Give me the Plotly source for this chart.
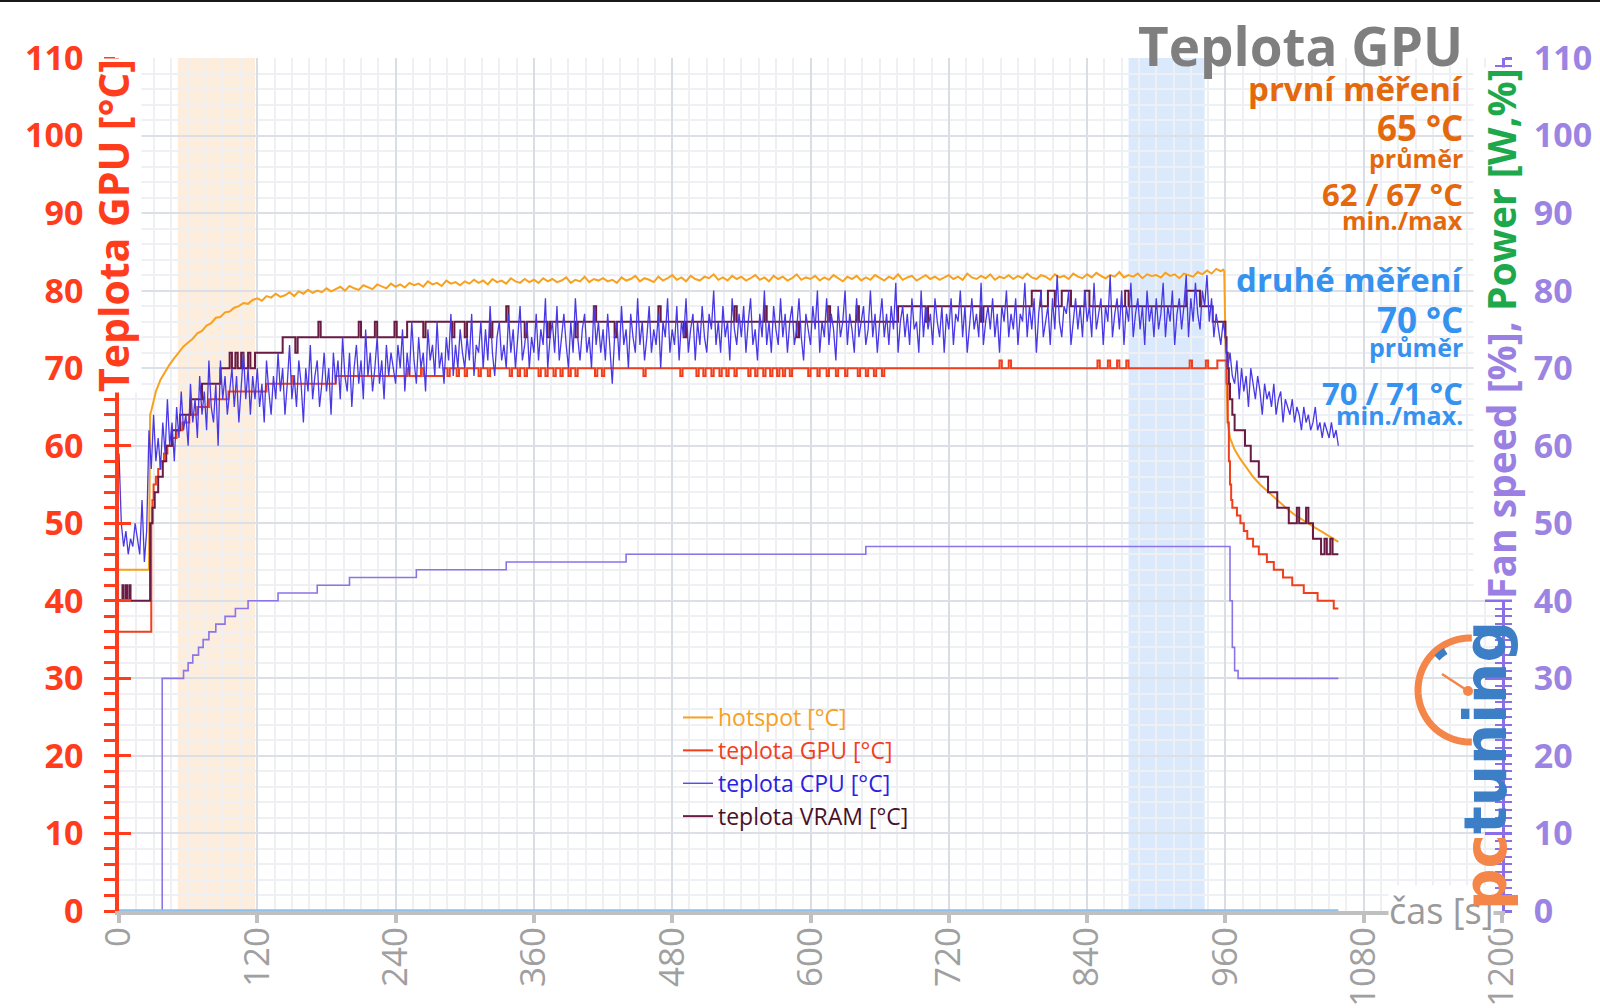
import math
import plotly.graph_objects as go

# ---------------- data ----------------
# CPU temperature, sampled every 2 s from t = 0 s
cpu_v = [
    59,50,47,49,46,48,47,50,48,46,53,45,49,62,57,64,58,61,57,63,59,66,60,63,58,65,61,67,62,64,
    60,68,63,66,61,69,64,67,62,71,65,63,68,60,71,66,69,64,67,70,65,69,63,68,72,66,70,64,69,66,
    70,65,68,63,71,67,64,69,66,72,67,70,64,68,73,66,69,65,71,68,63,70,67,73,66,69,71,65,68,72,
    67,70,64,72,68,71,66,74,69,67,72,65,70,73,68,71,66,75,69,72,67,70,74,68,71,66,73,69,72,70,
    68,73,70,75,67,72,69,76,71,68,74,70,72,67,75,71,73,69,76,70,72,68,74,71,77,69,73,70,75,72,
    70,74,71,77,69,73,72,76,70,75,71,78,72,69,74,76,71,73,70,77,72,75,70,74,78,71,73,76,70,74,
    72,77,71,75,73,79,70,74,76,72,78,71,74,77,73,70,76,72,79,74,71,75,77,72,74,70,78,73,76,72,
    75,71,77,73,68,74,76,71,78,73,75,70,77,74,72,79,73,76,71,74,78,72,75,73,77,70,76,74,79,72,
    75,73,78,71,76,74,79,72,75,77,71,76,73,78,74,72,77,75,80,73,76,72,78,74,76,71,79,75,73,77,
    74,78,72,76,79,73,75,71,77,74,80,73,76,72,78,75,73,79,74,77,72,76,78,73,75,79,74,71,77,75,
    73,78,75,80,72,76,74,79,73,77,75,71,78,74,76,80,73,77,75,72,79,74,76,78,73,75,80,74,77,72,
    76,79,74,77,73,78,75,81,72,76,78,74,77,73,79,75,76,72,80,74,78,75,77,73,79,76,74,78,72,77,
    75,79,73,77,76,80,74,78,72,76,79,75,77,74,81,73,76,78,75,79,74,77,72,78,76,80,74,77,75,79,
    73,77,76,81,74,78,75,79,72,77,80,74,76,78,73,79,75,82,76,74,78,77,80,73,76,79,75,78,74,80,
    76,78,74,81,75,77,79,73,78,76,82,74,77,79,75,80,73,78,76,81,74,77,79,75,78,73,80,76,78,74,
    79,75,77,81,74,78,76,80,73,77,79,75,78,82,74,79,76,81,77,75,80,78,82,76,79,74,77,75,73,76,
    74,70,72,69,68,71,66,70,67,69,65,70,68,66,69,67,64,68,66,67,65,68,64,66,67,63,66,65,64,66,
    63,65,64,62,65,63,64,62,63,65,62,63,61,63,62,61,63,61,62,60,
]
cpu_t = [2 * i for i in range(len(cpu_v))]

# hotspot: start, warm-up rise (every 4 s from 28 s), plateau (every 4 s from 120 s), cool-down
hot_head_t = [0, 26, 27]
hot_head_v = [44, 44, 64]
hot_rise_v = [64.5,67,68.5,69.5,70.5,71.3,72,72.8,73.3,73.8,74.5,74.8,75.5,75.8,76.5,76.6,77.2,77.3,77.8,78.0,78.4,78.3,78.8]
hot_plateau_v = [
    79.0,78.7,79.3,79.1,79.6,79.2,79.4,79.8,79.3,79.9,79.6,80.1,79.7,80.0,79.8,
    80.3,79.9,80.2,80.5,80.0,80.6,80.3,80.1,80.7,80.4,80.2,80.8,80.5,80.3,80.9,
    80.5,80.8,80.4,81.0,80.7,80.9,80.5,81.2,80.8,81.0,80.6,81.3,80.9,81.1,80.7,
    81.2,80.9,81.4,81.0,81.3,80.8,81.5,81.1,81.3,80.9,81.6,81.2,81.0,81.5,81.1,
    81.4,81.0,81.6,81.2,81.5,81.1,81.3,81.7,81.0,81.4,81.2,81.8,81.1,81.5,81.3,
    81.6,81.2,81.4,81.0,81.7,81.3,81.5,81.9,81.2,81.6,81.4,81.1,81.8,81.3,81.6,
    82.0,81.4,81.7,81.2,81.9,81.5,81.3,81.8,81.6,82.1,81.4,81.7,81.3,81.9,81.5,
    81.8,81.3,81.6,82.0,81.4,81.7,81.2,81.9,81.5,81.8,81.3,81.6,82.1,81.4,81.7,
    81.5,81.9,81.3,81.7,81.4,82.0,81.6,81.2,81.8,81.5,81.9,81.3,81.7,81.4,82.0,
    81.6,81.3,81.8,81.5,82.1,81.4,81.7,81.9,81.3,81.6,82.0,81.5,81.8,81.4,81.7,
    82.0,81.5,81.8,81.4,82.2,81.7,81.5,81.9,81.6,82.1,81.4,81.8,81.6,82.0,81.5,
    81.9,81.6,82.2,81.7,81.5,82.0,81.8,81.4,82.1,81.7,81.9,81.5,82.2,81.8,81.6,
    82.1,81.7,82.3,81.9,81.6,82.0,81.8,82.4,81.7,82.0,81.8,82.2,81.6,82.1,81.9,
    82.0,81.7,82.3,81.9,82.1,81.6,82.2,82.0,81.8,82.4,82.1,82.6,82.2,82.8,82.5,
]
hot_tail_t = [958, 959, 960, 961, 962, 964, 968, 972, 978, 984, 990, 996, 1002, 1008, 1014, 1020, 1026, 1032, 1038, 1044, 1050, 1058]
hot_tail_v = [82.7, 82.5, 74, 66, 63, 61, 59.5, 58.5, 57.2, 56, 55, 54.2, 53.3, 52.5, 51.8, 51.1, 50.5, 50, 49.4, 48.9, 48.3, 47.6]

# GPU temperature: change points (time s, °C), step-wise
gpu_points = [
    (0,36),(28,50),(29,53),(30,55),(32,56),(34,57),(36,58),(39,59),(42,60),(46,61),(50,62),(55,63),
    (61,64),(68,65),(78,66),(95,67),(128,68),(150,69),(152,68),(188,69),(250,70),(252,69),(262,70),
    (264,69),(282,70),
    (285,69),(287,70),(293,69),(295,70),(300,69),(302,70),(312,69),(314,70),(320,69),(322,70),
    (339,69),(341,70),(346,69),(348,70),(352,69),(354,70),(364,69),(366,70),(370,69),(372,70),
    (377,69),(379,70),(383,69),(385,70),(390,69),(392,70),(396,69),(398,70),(413,69),(415,70),
    (419,69),(421,70),(455,69),(457,70),(487,69),(489,70),(501,69),(503,70),(507,69),(509,70),
    (514,69),(516,70),(521,69),(523,70),(527,69),(529,70),(534,69),(536,70),(546,69),(548,70),
    (552,69),(554,70),(559,69),(561,70),(565,69),(567,70),(571,69),(573,70),(576,69),(578,70),
    (582,69),(584,70),(598,69),(600,70),(606,69),(608,70),(614,69),(616,70),(622,69),(624,70),
    (630,69),(632,70),(641,69),(643,70),(648,69),(650,70),(655,69),(657,70),(662,69),(664,70),
    (764,71),(766,70),(772,71),(774,70),(849,71),(851,70),(858,71),(860,70),(866,71),(868,70),
    (874,71),(876,70),(929,71),(931,70),(943,71),(945,70),(953,71),
    (961,68),(962,63),(963,58),(964,55),(965,53),(966,52),(970,51),(973,50),(976,49),(979,48),
    (984,47),(989,46),(996,45),(1002,44),(1010,43),(1018,42),(1028,41),(1040,40),(1054,39),(1058,39),
]

# VRAM temperature: change points (time s, °C), step-wise
vram_points = [
    (0,40),(3,42),(4,40),(6,42),(7,40),(9,42),(10,40),(27,50),(29,52),(31,54),(34,56),(38,58),
    (41,60),(46,62),(53,64),(62,66),(72,68),(88,70),(96,72),(98,70),(101,72),(103,70),(106,72),
    (108,70),(112,72),(114,70),(118,72),(142,74),(153,72),(155,74),(173,76),(175,74),(208,76),
    (210,74),(222,76),(224,74),(239,76),(241,74),(250,76),(264,74),(266,76),(289,74),(291,76),
    (300,74),(302,76),(322,74),(324,76),(336,78),(338,76),(352,74),(354,76),(372,74),(374,76),
    (396,74),(398,76),(412,78),(414,76),(430,74),(432,76),(468,78),(470,76),(490,74),(492,76),
    (534,78),(536,76),(560,78),(562,76),(588,74),(590,76),(615,78),(617,76),(640,78),(642,76),
    (676,78),(700,76),(702,78),(748,76),(750,78),(792,80),(800,78),(806,80),(812,78),(818,80),
    (826,78),(838,80),(842,78),(873,80),(876,78),(926,80),(938,78),(949,76),(960,74),(961,72),
    (962,70),(963,68),(964,66),(966,64),(968,62),(977,60),(982,58),(989,56),(997,54),(1005,52),
    (1015,50),(1022,52),(1024,50),(1030,52),(1032,50),(1036,48),(1043,46),(1046,48),(1048,46),
    (1051,48),(1053,46),(1058,46),
]

# Fan speed [%]: change points (time s, %), step-wise
fan_points = [
    (0,0),(37,0),(37.5,30),(56,31),(60,32),(64,33),(69,34),(73,35),(78,36),(84,37),(92,38),
    (101,39),(112,40),(138,41),(172,42),(200,43),(258,44),(336,45),(440,46),(648,47),
    (964,40),(966,34),(968,31),(971,30),(1058,30),
]

# Power (at zero over the whole run)
power_t = [0, 1058]
power_v = [0, 0]

# highlighted measurement windows (s)
band_first = [51, 118]
band_second = [876, 942]

x_ticks = [0, 120, 240, 360, 480, 600, 720, 840, 960, 1080, 1200]
y_ticks = [0, 10, 20, 30, 40, 50, 60, 70, 80, 90, 100, 110]

legend_names = ["hotspot [°C]", "teplota GPU [°C]", "teplota CPU [°C]", "teplota VRAM [°C]"]
info_first = ["první měření", "65 °C", "průměr", "62 / 67 °C", "min./max"]
info_second = ["druhé měření", "70 °C", "průměr", "70 / 71 °C", "min./max."]

# ---------------- build ----------------
hot_rise_t = list(range(28, 117, 4))
hot_plateau_t = list(range(120, 957, 4))
hot_t = hot_head_t + hot_rise_t + hot_plateau_t + hot_tail_t
hot_v = hot_head_v + hot_rise_v + hot_plateau_v + hot_tail_v

gpu_t, gpu_v = zip(*gpu_points)
vram_t, vram_v = zip(*vram_points)
fan_t, fan_v = zip(*fan_points)

C_HOT = "#f8a11e"
C_GPU = "#f03f1d"
C_CPU = "#4838e6"
C_VRAM = "#6a1b43"
C_FAN = "#8b73e8"
C_RED = "#ff3d1c"
C_PURPLE = "#8b6fe6"
C_PURPLE_TXT = "#9c84e3"
C_ORANGE_TXT = "#e4680c"
C_BLUE_TXT = "#3592ef"
FONT = "Open Sans"

L, R, T, B = 119, 1502, 58, 911


def px(x):
    return (x - L) / (R - L)


def py(y):
    return (B - y) / (B - T)


fig = go.Figure()
fig.add_trace(go.Scatter(x=list(fan_t), y=list(fan_v), yaxis="y2", mode="lines",
                         line=dict(color=C_FAN, width=1.6, shape="hv"), showlegend=False, hoverinfo="skip"))
fig.add_trace(go.Scatter(x=power_t, y=power_v, yaxis="y2", mode="lines",
                         line=dict(color="#8ec0ea", width=3.5), showlegend=False, hoverinfo="skip"))
fig.add_trace(go.Scatter(x=hot_t, y=hot_v, mode="lines", line=dict(color=C_HOT, width=2),
                         name=f"<span style='color:#f5a11f'>{legend_names[0]}</span>",
                         legendgroup="a", legendrank=1))
fig.add_trace(go.Scatter(x=list(gpu_t), y=list(gpu_v), mode="lines", line=dict(color=C_GPU, width=2, shape="hv"),
                         name=f"<span style='color:#f0401f'>{legend_names[1]}</span>",
                         legendgroup="b", legendrank=2))
fig.add_trace(go.Scatter(x=list(vram_t), y=list(vram_v), mode="lines", line=dict(color=C_VRAM, width=2, shape="hv"),
                         name=f"<span style='color:#4a1028'>{legend_names[3]}</span>",
                         legendgroup="d", legendrank=4))
fig.add_trace(go.Scatter(x=cpu_t, y=cpu_v, mode="lines", line=dict(color=C_CPU, width=1.3),
                         name=f"<span style='color:#2a22e0'>{legend_names[2]}</span>",
                         legendgroup="c", legendrank=3))
# helper traces so the tick-only overlay axes are drawn
fig.add_trace(go.Scatter(x=[None], y=[None], yaxis="y3", showlegend=False, hoverinfo="skip"))
fig.add_trace(go.Scatter(x=[None], y=[None], yaxis="y4", showlegend=False, hoverinfo="skip"))

shapes = [
    dict(type="rect", xref="x", yref="paper", x0=band_first[0], x1=band_first[1], y0=0, y1=1,
         fillcolor="#fdeddd", line=dict(width=0), layer="below"),
    dict(type="rect", xref="x", yref="paper", x0=band_second[0], x1=band_second[1], y0=0, y1=1,
         fillcolor="#daeafc", line=dict(width=0), layer="below"),
    dict(type="line", xref="paper", yref="paper", x0=px(0), x1=px(1600), y0=py(1), y1=py(1),
         line=dict(color="#1a1a1a", width=2)),
]


def arc_path(cx, cy, r, a0, a1, n=48):
    pts = []
    for i in range(n + 1):
        a = math.radians(a0 + (a1 - a0) * i / n)
        pts.append((px(cx + r * math.cos(a)), py(cy - r * math.sin(a))))
    return "M " + " L ".join(f"{x:.5f},{y:.5f}" for x, y in pts)


# logo (decoration)
shapes += [
    dict(type="path", xref="paper", yref="paper", path=arc_path(1470, 690, 52, 88, 272),
         line=dict(color="#f4864a", width=7)),
    dict(type="path", xref="paper", yref="paper", path=arc_path(1470, 690, 46, 122, 136, 8),
         line=dict(color="#3d7fc6", width=7)),
    dict(type="line", xref="paper", yref="paper", x0=px(1442), y0=py(674), x1=px(1468), y1=py(691),
         line=dict(color="#f4864a", width=2.5)),
    dict(type="circle", xref="paper", yref="paper", x0=px(1463), x1=px(1473), y0=py(696), y1=py(686),
         fillcolor="#f4864a", line=dict(width=0)),
]

annotations = []


def add_text(text, x, y, size, color, bold=True, **kw):
    d = dict(text=text, xref="paper", yref="paper", x=px(x), y=py(y), showarrow=False,
             font=dict(family=FONT, size=size, color=color, weight=700 if bold else 400))
    d.update(kw)
    annotations.append(d)


XR = 1465
add_text("Teplota GPU", XR, 45, 53, "#7f7f7f", xanchor="right", yanchor="middle")
sizes = [33, 35, 25, 31, 25]
ys_first = [88, 128, 158, 194, 220]
ys_second = [279, 319, 347, 393, 415]
for s, sz, yy in zip(info_first, sizes, ys_first):
    add_text(s, XR, yy, sz, C_ORANGE_TXT, xanchor="right", yanchor="middle")
for s, sz, yy in zip(info_second, sizes, ys_second):
    add_text(s, XR, yy, sz, C_BLUE_TXT, xanchor="right", yanchor="middle")

add_text("Teplota GPU [°C]", 113, 226, 41, C_RED, textangle=-90, xanchor="center", yanchor="middle",
         bgcolor="white", borderpad=0)
add_text("<span style='color:#9b80e3'>Fan speed [%], </span><span style='color:#1ea84c'>Power [W,%]</span>",
         1500, 334, 39, "#9b80e3", textangle=-90, xanchor="center", yanchor="middle",
         bgcolor="white", borderpad=0)
add_text("čas [s]", 1441, 910, 36, "#9a9a9a", bold=False, xanchor="center", yanchor="middle",
         bgcolor="white", borderpad=0)
annotations.append(dict(
    text="<span style='color:#f4864a'>pc</span><span style='color:#3d7fc6'>tuning</span>",
    xref="paper", yref="paper", x=px(1486), y=py(766), showarrow=False, textangle=-90,
    xanchor="center", yanchor="middle",
    font=dict(family="DejaVu Sans", size=58, color="#3d7fc6", weight=700)))

fig.update_layout(
    width=1600, height=1008,
    margin=dict(l=L, r=1600 - R, t=T, b=1008 - B, autoexpand=False),
    paper_bgcolor="white", plot_bgcolor="white",
    font=dict(family=FONT),
    showlegend=True,
    legend=dict(x=px(678), y=py(696), xanchor="left", yanchor="top", bgcolor="rgba(0,0,0,0)",
                font=dict(family=FONT, size=23), tracegroupgap=0, itemwidth=30),
    xaxis=dict(range=[0, 1200], tickvals=x_ticks, tickangle=-90,
               tickfont=dict(family=FONT, size=35, color="#a0a0a0"),
               ticks="outside", ticklen=8, tickwidth=4, tickcolor="#c0c0c0",
               showline=True, linecolor="#c0c0c0", linewidth=4,
               showgrid=True, gridcolor="#d9dde5", gridwidth=1.5,
               minor=dict(dtick=15, showgrid=True, gridcolor="#eef0f4", gridwidth=1.5, ticks=""),
               zeroline=False, layer="below traces", ticklabelstandoff=-10),
    yaxis=dict(range=[0, 110], tickvals=y_ticks,
               tickfont=dict(family=FONT, size=34, color=C_RED, weight=700),
               ticks="outside", ticklen=11, tickwidth=3, tickcolor=C_RED,
               showline=True, linecolor=C_RED, linewidth=3.5,
               showgrid=True, gridcolor="#dcdfe6", gridwidth=1.5,
               minor=dict(dtick=2, ticks="outside", ticklen=11, tickwidth=2.5, tickcolor=C_RED,
                          showgrid=True, gridcolor="#eef0f4", gridwidth=1.5),
               zeroline=False, ticklabelstandoff=14),
    yaxis2=dict(overlaying="y", side="right", anchor="x", range=[0, 110], tickvals=y_ticks,
                tickfont=dict(family=FONT, size=34, color=C_PURPLE_TXT, weight=700),
                ticks="outside", ticklen=7, tickwidth=3, tickcolor=C_PURPLE,
                showline=True, linecolor=C_PURPLE, linewidth=3, showgrid=False,
                minor=dict(dtick=1, ticks="outside", ticklen=7, tickwidth=2, tickcolor=C_PURPLE, showgrid=False),
                zeroline=False, ticklabelstandoff=15),
    yaxis3=dict(overlaying="y", side="left", anchor="x", range=[0, 110], tickvals=y_ticks,
                ticks="inside", ticklen=12, tickwidth=3, tickcolor=C_RED, showticklabels=False,
                showgrid=False, showline=False, zeroline=False),
    yaxis4=dict(overlaying="y", side="right", anchor="x", range=[0, 110], tickvals=y_ticks,
                ticks="inside", ticklen=17, tickwidth=3, tickcolor=C_PURPLE, showticklabels=False,
                showgrid=False, showline=False, zeroline=False,
                minor=dict(dtick=1, ticks="inside", ticklen=7, tickwidth=2, tickcolor=C_PURPLE, showgrid=False)),
    shapes=shapes,
    annotations=annotations,
)

fig.write_html("out.html", config={"displayModeBar": False},
               post_script="document.body.style.margin='0';")
